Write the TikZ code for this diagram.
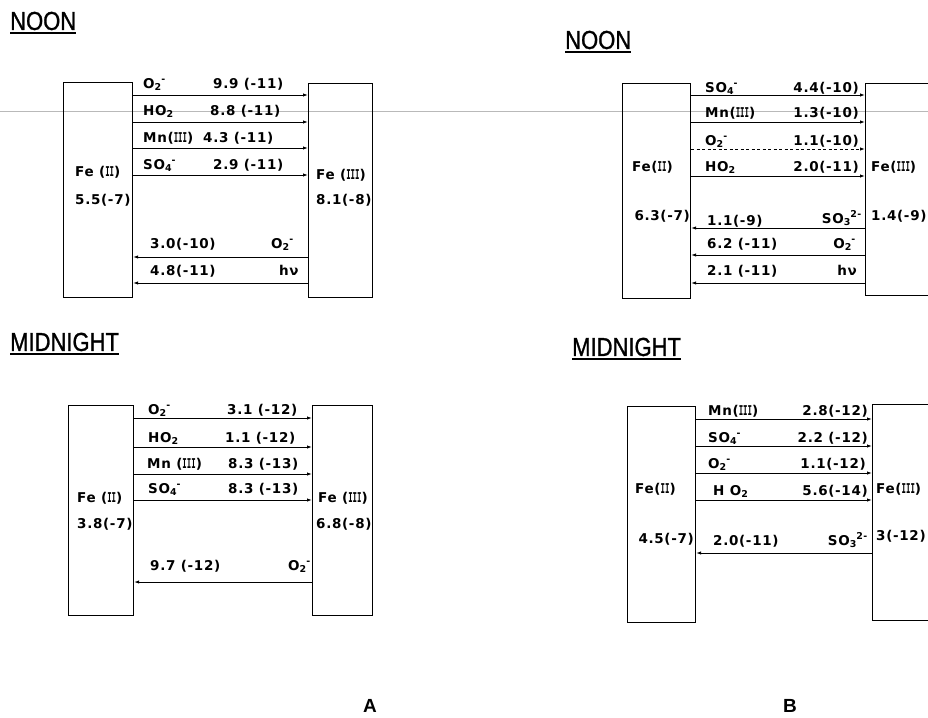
\documentclass[tikz,border=0pt]{standalone}
\usepackage{fontspec}
\setmonofont{DejaVu Sans Mono}
\newfontfamily\labfont{DejaVu Sans}[LetterSpace=5]
\newfontfamily\titlefont{Liberation Sans}[FakeBold=1.2]
\newfontfamily\panelfont{Liberation Sans}
\usetikzlibrary{arrows.meta}
\newcommand{\ion}[2]{\textsubscript{#1}\kern-0.5pt\textsuperscript{#2}}
\newcommand{\rn}[1]{{\ttfamily\bfseries\scalebox{0.55}[1]{#1}}}
\newcommand{\tstretch}[1]{\scalebox{1}[1.18]{#1}}
\begin{document}
\begin{tikzpicture}[x=1pt,y=-1pt,
  box/.style={draw, line width=1.1pt, inner sep=0pt, anchor=north west},
  arr/.style={line width=0.9pt, -{Latex[length=5pt,width=3.4pt]}},
  dasharr/.style={arr, dash pattern=on 3pt off 2.5pt},
  lab/.style={font=\labfont\bfseries\fontsize{13.5}{16}\selectfont, inner sep=0pt, anchor=base west},
  labr/.style={lab, anchor=base east},
  title/.style={font=\titlefont\fontsize{22}{26}\selectfont, inner sep=0pt, anchor=west},
  panel/.style={font=\panelfont\bfseries\fontsize{19}{22}\selectfont, inner sep=0pt},
  uline/.style={line width=1.8pt},
  scan/.style={gray!55, line width=0.9pt}]
\useasboundingbox (0,0) rectangle (928,717);
\clip (0,0) rectangle (928,717);
\fill[white] (0,0) rectangle (928,717);
\draw[scan] (0,111) -- (928,111);

% ---------------- A noon ----------------
\node[title] (tAn) at (10,21) {\tstretch{NOON}};
\draw[uline] ([yshift=-3pt]tAn.south west) -- ([yshift=-3pt]tAn.south east);
\node[box, minimum width=69pt, minimum height=215pt] (aL) at (63,82) {};
\node[box, minimum width=64pt, minimum height=214pt] (aR) at (308,83) {};
\draw[arr] (aL.east |- 0,95) -- (aR.west |- 0,95);
\draw[arr] (aL.east |- 0,122) -- (aR.west |- 0,122);
\draw[arr] (aL.east |- 0,148) -- (aR.west |- 0,148);
\draw[arr] (aL.east |- 0,175) -- (aR.west |- 0,175);
\draw[arr] (aR.west |- 0,257) -- (aL.east |- 0,257);
\draw[arr] (aR.west |- 0,283) -- (aL.east |- 0,283);
\node[lab] (an1) at (143,88) {O\ion{2}{-}};
\node[lab] (an2) at (213,88) {9.9 (-11)};
\node[lab] (an3) at (143,115) {HO\textsubscript{2}};
\node[lab] (an4) at (210,115) {8.8 (-11)};
\node[lab] (an5) at (143,142) {Mn(\rn{III})};
\node[lab] (an6) at (203,142) {4.3 (-11)};
\node[lab] (an7) at (143,169) {SO\ion{4}{-}};
\node[lab] (an8) at (213,169) {2.9 (-11)};
\node[lab] (an9) at (75,176) {Fe (\rn{II})};
\node[lab] (an10) at (75,204) {5.5(-7)};
\node[lab] (an11) at (316,179) {Fe (\rn{III})};
\node[lab] (an12) at (316,204) {8.1(-8)};
\node[lab] (an13) at (150,248) {3.0(-10)};
\node[lab] (an14) at (271,248) {O\ion{2}{-}};
\node[lab] (an15) at (150,275) {4.8(-11)};
\node[lab] (an16) at (279,275) {hν};

% ---------------- A midnight ----------------
\node[title] (tAm) at (10,342) {\tstretch{MIDNIGHT}};
\draw[uline] ([yshift=-3pt]tAm.south west) -- ([yshift=-3pt]tAm.south east);
\node[box, minimum width=65pt, minimum height=210pt] (cL) at (68,405) {};
\node[box, minimum width=60pt, minimum height=210pt] (cR) at (312,405) {};
\draw[arr] (cL.east |- 0,418) -- (cR.west |- 0,418);
\draw[arr] (cL.east |- 0,447) -- (cR.west |- 0,447);
\draw[arr] (cL.east |- 0,474) -- (cR.west |- 0,474);
\draw[arr] (cL.east |- 0,500) -- (cR.west |- 0,500);
\draw[arr] (cR.west |- 0,582) -- (cL.east |- 0,582);
\node[lab] (am1) at (148,414) {O\ion{2}{-}};
\node[lab] (am2) at (227,414) {3.1 (-12)};
\node[lab] (am3) at (148,442) {HO\textsubscript{2}};
\node[lab] (am4) at (225,442) {1.1 (-12)};
\node[lab] (am5) at (147,468) {Mn (\rn{III})};
\node[lab] (am6) at (228,468) {8.3 (-13)};
\node[lab] (am7) at (148,493) {SO\ion{4}{-}};
\node[lab] (am8) at (228,493) {8.3 (-13)};
\node[lab] (am9) at (77,502) {Fe (\rn{II})};
\node[lab] (am10) at (77,528) {3.8(-7)};
\node[lab] (am11) at (318,502) {Fe (\rn{III})};
\node[lab] (am12) at (316,528) {6.8(-8)};
\node[lab] (am13) at (150,570) {9.7 (-12)};
\node[lab] (am14) at (288,570) {O\ion{2}{-}};

% ---------------- B noon ----------------
\node[title] (tBn) at (565,40) {\tstretch{NOON}};
\draw[uline] ([yshift=-3pt]tBn.south west) -- ([yshift=-3pt]tBn.south east);
\node[box, minimum width=68pt, minimum height=215pt] (bL) at (622,83) {};
\node[box, minimum width=80pt, minimum height=212pt] (bR) at (865,83) {};
\draw[arr] (bL.east |- 0,95) -- (bR.west |- 0,95);
\draw[arr] (bL.east |- 0,122) -- (bR.west |- 0,122);
\draw[dasharr] (bL.east |- 0,149) -- (bR.west |- 0,149);
\draw[arr] (bL.east |- 0,176) -- (bR.west |- 0,176);
\draw[arr] (bR.west |- 0,228) -- (bL.east |- 0,228);
\draw[arr] (bR.west |- 0,255) -- (bL.east |- 0,255);
\draw[arr] (bR.west |- 0,283) -- (bL.east |- 0,283);
\node[lab] (bn1) at (705,92) {SO\ion{4}{-}};
\node[labr] (bn2) at (859,92) {4.4(-10)};
\node[lab] (bn3) at (705,117) {Mn(\rn{III})};
\node[labr] (bn4) at (859,117) {1.3(-10)};
\node[lab] (bn5) at (705,145) {O\ion{2}{-}};
\node[labr] (bn6) at (859,145) {1.1(-10)};
\node[lab] (bn7) at (705,171) {HO\textsubscript{2}};
\node[labr] (bn8) at (859,171) {2.0(-11)};
\node[lab] (bn9) at (632,171) {Fe(\rn{II})};
\node[lab] (bn10) at (871,171) {Fe(\rn{III})};
\node[labr] (bn11) at (690,220) {6.3(-7)};
\node[lab] (bn12) at (707,225) {1.1(-9)};
\node[labr] (bn13) at (862,223) {SO\ion{3}{2-}};
\node[lab] (bn14) at (871,220) {1.4(-9)};
\node[lab] (bn15) at (707,248) {6.2 (-11)};
\node[labr] (bn16) at (856,248) {O\ion{2}{-}};
\node[lab] (bn17) at (707,275) {2.1 (-11)};
\node[labr] (bn18) at (857,275) {hν};

% ---------------- B midnight ----------------
\node[title] (tBm) at (572,347) {\tstretch{MIDNIGHT}};
\draw[uline] ([yshift=-3pt]tBm.south west) -- ([yshift=-3pt]tBm.south east);
\node[box, minimum width=68pt, minimum height=216pt] (dL) at (627,406) {};
\node[box, minimum width=80pt, minimum height=216pt] (dR) at (872,404) {};
\draw[arr] (dL.east |- 0,419) -- (dR.west |- 0,419);
\draw[arr] (dL.east |- 0,446) -- (dR.west |- 0,446);
\draw[arr] (dL.east |- 0,473) -- (dR.west |- 0,473);
\draw[arr] (dL.east |- 0,500) -- (dR.west |- 0,500);
\draw[arr] (dR.west |- 0,553) -- (dL.east |- 0,553);
\node[lab] (bm1) at (708,415) {Mn(\rn{III})};
\node[labr] (bm2) at (868,415) {2.8(-12)};
\node[lab] (bm3) at (708,442) {SO\ion{4}{-}};
\node[labr] (bm4) at (868,442) {2.2 (-12)};
\node[lab] (bm5) at (708,468) {O\ion{2}{-}};
\node[labr] (bm6) at (866,468) {1.1(-12)};
\node[lab] (bm7) at (713,495) {H O\textsubscript{2}};
\node[labr] (bm8) at (868,495) {5.6(-14)};
\node[lab] (bm9) at (635,493) {Fe(\rn{II})};
\node[lab] (bm10) at (876,493) {Fe(\rn{III})};
\node[labr] (bm11) at (694,543) {4.5(-7)};
\node[lab] (bm12) at (713,545) {2.0(-11)};
\node[labr] (bm13) at (868,545) {SO\ion{3}{2-}};
\node[lab] (bm14) at (876,540) {3(-12)};

% panel letters
\node[panel] (pA) at (370,706) {A};
\node[panel] (pB) at (790,706) {B};
\end{tikzpicture}
\end{document}
